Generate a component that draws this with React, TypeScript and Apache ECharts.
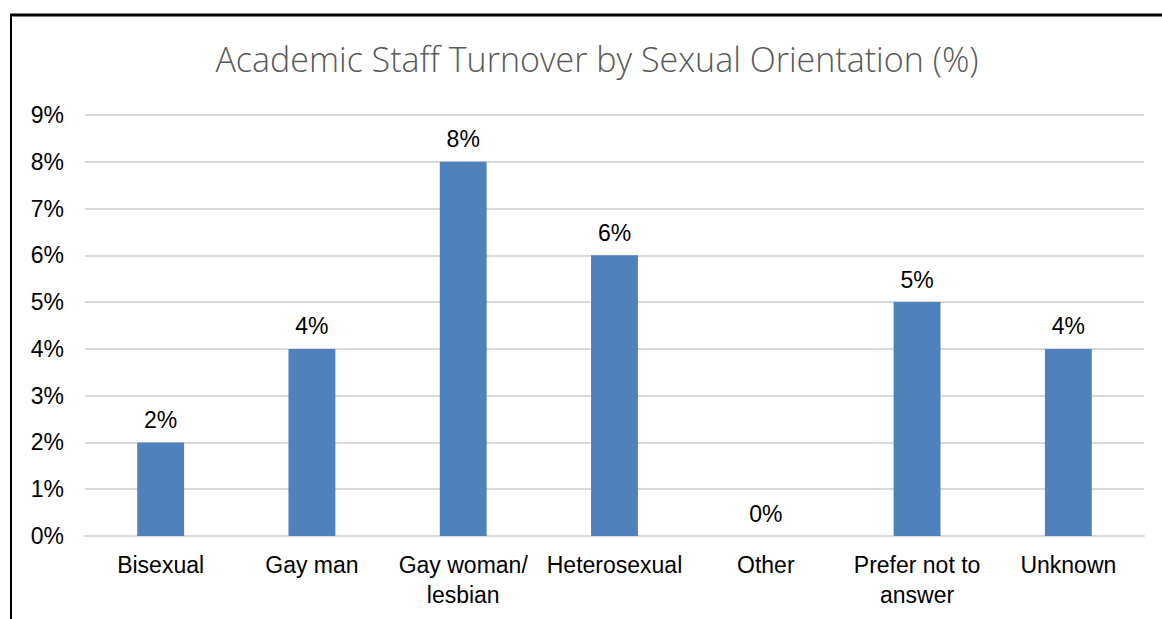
import React, { useEffect, useRef } from "react";
import * as echarts from "echarts";

const categories = ["Bisexual", "Gay man", "Gay woman/\nlesbian", "Heterosexual", "Other", "Prefer not to\nanswer", "Unknown"];
const values = [2, 4, 8, 6, 0, 5, 4];
const yTicks = [0, 1, 2, 3, 4, 5, 6, 7, 8, 9];

export default function App() {
  const ref = useRef<HTMLDivElement>(null);
  useEffect(() => {
    const chart = echarts.init(ref.current!, null, { renderer: "svg" });
    chart.setOption({
      animation: false,
      backgroundColor: "#ffffff",
      title: {
        text: "Academic Staff Turnover by Sexual Orientation (%)",
        left: 592,
        top: 37,
        textAlign: "center",
        textStyle: { fontFamily: "Open Sans", fontSize: 34, fontWeight: 300, color: "#595959" },
      },
      graphic: [
        { type: "line", shape: { x1: 10, y1: 15, x2: 1162, y2: 15 }, style: { stroke: "#000", lineWidth: 3 } },
        { type: "line", shape: { x1: 11, y1: 14, x2: 11, y2: 619 }, style: { stroke: "#000", lineWidth: 2 } },
      ],
      grid: { left: 85, right: 18, top: 115, bottom: 83 },
      xAxis: {
        type: "category",
        data: categories,
        axisTick: { show: false },
        axisLine: { lineStyle: { color: "#D9D9D9", width: 2 } },
        axisLabel: { fontFamily: "Liberation Sans", fontSize: 23, color: "#000", margin: 14, lineHeight: 30, interval: 0 },
      },
      yAxis: {
        type: "value",
        min: yTicks[0],
        max: yTicks[yTicks.length - 1],
        interval: 1,
        axisLabel: { fontFamily: "Liberation Sans", fontSize: 23, color: "#000", margin: 21, formatter: "{value}%" },
        splitLine: { lineStyle: { color: "#D9D9D9", width: 2 } },
      },
      series: [
        {
          type: "bar",
          data: values,
          barWidth: "31%",
          itemStyle: { color: "#4F81BD" },
          label: {
            show: true,
            position: "top",
            distance: 11,
            formatter: "{c}%",
            fontFamily: "Liberation Sans",
            fontSize: 23,
            color: "#000",
          },
        },
      ],
    });
    return () => chart.dispose();
  }, []);
  return <div ref={ref} style={{ position: "fixed", left: 0, top: 0, width: 1162, height: 619 }} />;
}
